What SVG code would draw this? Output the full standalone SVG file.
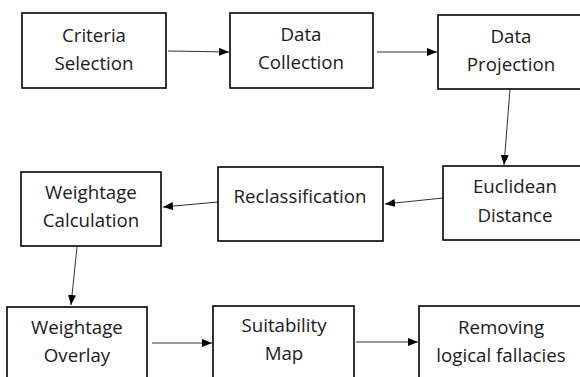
<svg xmlns="http://www.w3.org/2000/svg" width="580" height="377" viewBox="0 0 580 377">
<style>
.box{fill:#fff;stroke:#000;stroke-width:1.6}
.lbl{font-family:"Open Sans","Noto Sans",sans-serif;font-size:18.7px;fill:#1a1a1a;text-anchor:middle}
.con{stroke:#333;stroke-width:1;fill:none;marker-end:url(#ah)}
</style>
<defs>
<marker id="ah" viewBox="0 0 10 8" refX="10" refY="4" markerWidth="10" markerHeight="8" markerUnits="userSpaceOnUse" orient="auto">
<path d="M0,0 L10,4 L0,8 Z" fill="#000"/>
</marker>
</defs>
<rect width="580" height="377" fill="#fff"/>
<g id="connectors">
<line class="con" x1="168" y1="51" x2="229" y2="52"/>
<line class="con" x1="377" y1="52" x2="437" y2="52"/>
<line class="con" x1="510" y1="89" x2="504" y2="165"/>
<line class="con" x1="443" y1="198" x2="385" y2="204"/>
<line class="con" x1="218" y1="202" x2="163" y2="207"/>
<line class="con" x1="77" y1="247" x2="71" y2="305"/>
<line class="con" x1="152" y1="343" x2="212" y2="343"/>
<line class="con" x1="356" y1="342" x2="418" y2="342"/>
</g>
<g id="criteria-selection">
<rect class="box" x="22" y="13" width="144" height="75"/>
<text class="lbl" x="94" y="42">Criteria</text>
<text class="lbl" x="94" y="70">Selection</text>
</g>
<g id="data-collection">
<rect class="box" x="230" y="13" width="143" height="75"/>
<text class="lbl" x="301" y="41">Data</text>
<text class="lbl" x="301" y="69">Collection</text>
</g>
<g id="data-projection">
<rect class="box" x="438" y="15" width="150" height="74"/>
<text class="lbl" x="511" y="43">Data</text>
<text class="lbl" x="511" y="71">Projection</text>
</g>
<g id="euclidean-distance">
<rect class="box" x="443" y="166" width="145" height="74"/>
<text class="lbl" x="515" y="193">Euclidean</text>
<text class="lbl" x="515" y="222">Distance</text>
</g>
<g id="reclassification">
<rect class="box" x="218" y="167" width="165" height="74"/>
<text class="lbl" x="300" y="203">Reclassification</text>
</g>
<g id="weightage-calculation">
<rect class="box" x="21" y="172" width="140" height="74"/>
<text class="lbl" x="91" y="199">Weightage</text>
<text class="lbl" x="91" y="227">Calculation</text>
</g>
<g id="weightage-overlay">
<rect class="box" x="7" y="307" width="140" height="80"/>
<text class="lbl" x="77" y="334">Weightage</text>
<text class="lbl" x="77" y="362">Overlay</text>
</g>
<g id="suitability-map">
<rect class="box" x="213" y="306" width="141" height="80"/>
<text class="lbl" x="284" y="332">Suitability</text>
<text class="lbl" x="284" y="360">Map</text>
</g>
<g id="removing-logical-fallacies">
<rect class="box" x="419" y="306" width="170" height="80"/>
<text class="lbl" x="501" y="334">Removing</text>
<text class="lbl" x="501" y="362">logical fallacies</text>
</g>
</svg>
